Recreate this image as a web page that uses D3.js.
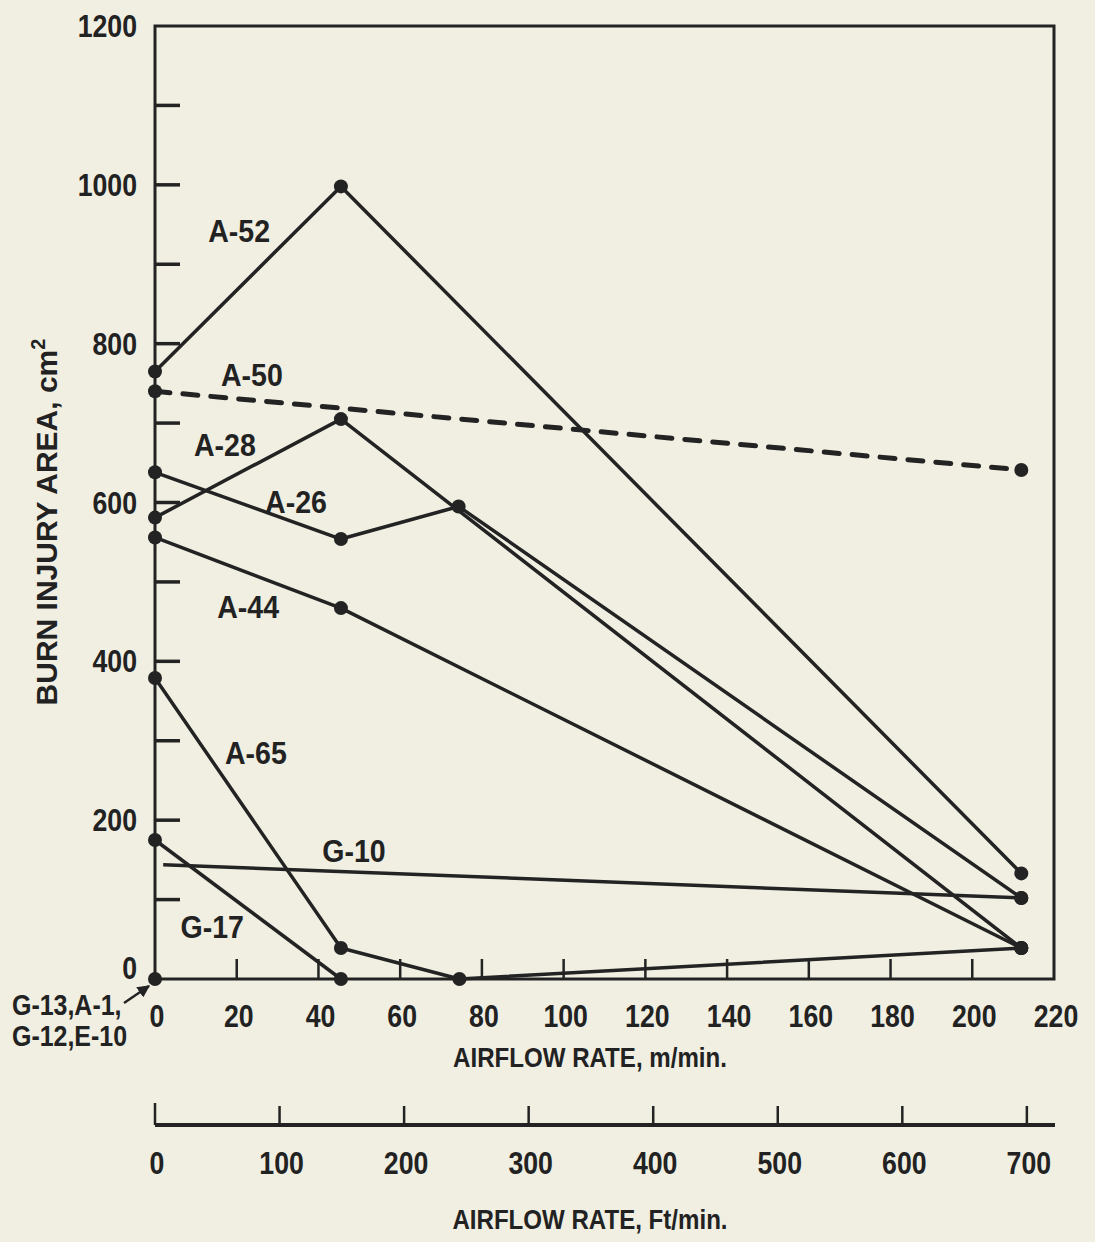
<!DOCTYPE html>
<html>
<head>
<meta charset="utf-8">
<script src="https://cdn.jsdelivr.net/npm/d3@7"></script>
<style>
  html, body { margin: 0; padding: 0; background: #f0efe2; }
  svg { display: block; }
  text { font-family: "Liberation Sans", Arial, sans-serif; font-weight: bold; fill: #222; }
</style>
</head>
<body>
<svg id="chart" width="1095" height="1242"></svg>
<script>
// ---------------- data ----------------
const seriesNames = ["A-52", "A-50", "A-28", "A-26", "A-44", "A-65", "G-10", "G-17", "G-13,A-1,G-12,E-10"];
const a52X = [0, 45.5, 212],        a52Y = [765, 998, 133];
const a50X = [0, 212],              a50Y = [740, 641];
const a28X = [0, 45.5, 212],        a28Y = [581, 705, 39];
const a26X = [0, 45.5, 74.3, 212],  a26Y = [638, 554, 595, 102];
const a44X = [0, 45.5, 212],        a44Y = [556, 467, 39];
const a65X = [0, 45.5, 74.5, 212],  a65Y = [379, 39, 0, 39];
const g10X = [2, 212],              g10Y = [144, 102];
const g17X = [0, 45.5],             g17Y = [175, 0];
const g13X = [0],                   g13Y = [0];

const xTicksM = [0, 20, 40, 60, 80, 100, 120, 140, 160, 180, 200, 220];
const xTicksFt = [0, 100, 200, 300, 400, 500, 600, 700];
const yTicks = [0, 100, 200, 300, 400, 500, 600, 700, 800, 900, 1000, 1100, 1200];
const yTickLabels = [0, 200, 400, 600, 800, 1000, 1200];

const FT_PER_M = 3.28084;

// ---------------- layout ----------------
const svg = d3.select("#chart");
const pL = 155, pR = 1054, pT = 26, pB = 979;
const ink = "#232323";
const K = 0.86; // horizontal condensing of the lettering

const x = d3.scaleLinear().domain([0, 220]).range([pL, pR]);
const y = d3.scaleLinear().domain([0, 1200]).range([pB, pT]);
const xFt = d3.scaleLinear().domain([0, 220 * FT_PER_M]).range([pL, pR]);

function condense(sel, k) {
  sel.each(function () {
    const w = this.getComputedTextLength();
    d3.select(this).attr("textLength", w * k).attr("lengthAdjust", "spacingAndGlyphs");
  });
  return sel;
}

const series = [
  { name: seriesNames[0], xs: a52X, ys: a52Y },
  { name: seriesNames[1], xs: a50X, ys: a50Y, dashed: true },
  { name: seriesNames[2], xs: a28X, ys: a28Y },
  { name: seriesNames[3], xs: a26X, ys: a26Y },
  { name: seriesNames[4], xs: a44X, ys: a44Y },
  { name: seriesNames[5], xs: a65X, ys: a65Y },
  { name: seriesNames[6], xs: g10X, ys: g10Y, noStartMarker: true },
  { name: seriesNames[7], xs: g17X, ys: g17Y },
  { name: seriesNames[8], xs: g13X, ys: g13Y }
];

// label placement (data units)
const labelPos = {
  "A-52": [20.6, 942], "A-50": [23.7, 760], "A-28": [17.1, 673], "A-26": [34.5, 601],
  "A-44": [22.8, 468], "A-65": [24.7, 284], "G-10": [48.7, 161], "G-17": [14, 66]
};

// frame
svg.append("rect")
  .attr("x", pL).attr("y", pT)
  .attr("width", pR - pL).attr("height", pB - pT)
  .attr("fill", "none").attr("stroke", ink).attr("stroke-width", 3);

// y ticks (inside)
svg.append("g").selectAll("line").data(yTicks.filter(v => v > 0 && v < 1200)).join("line")
  .attr("x1", pL).attr("x2", pL + 25)
  .attr("y1", d => y(d)).attr("y2", d => y(d))
  .attr("stroke", ink).attr("stroke-width", 3.5);

condense(svg.append("g").selectAll("text").data(yTickLabels).join("text")
  .attr("x", pL - 18).attr("y", d => y(d) + (d === 0 ? 0 : 11))
  .attr("text-anchor", "end").attr("font-size", 31)
  .text(d => d), K);

// x ticks (inside, upward)
svg.append("g").selectAll("line").data(xTicksM.filter(v => v > 0 && v < 220)).join("line")
  .attr("x1", d => x(d)).attr("x2", d => x(d))
  .attr("y1", pB).attr("y2", pB - 20)
  .attr("stroke", ink).attr("stroke-width", 2.5);

condense(svg.append("g").selectAll("text").data(xTicksM).join("text")
  .attr("x", d => x(d) + 2).attr("y", 1027)
  .attr("text-anchor", "middle").attr("font-size", 31)
  .text(d => d), K);

condense(svg.append("text").attr("x", 590).attr("y", 1067)
  .attr("text-anchor", "middle").attr("font-size", 28)
  .text("AIRFLOW RATE, m/min."), 0.86);

// ft/min axis
const ftY = 1125;
svg.append("line").attr("x1", pL).attr("x2", pR + 1)
  .attr("y1", ftY).attr("y2", ftY)
  .attr("stroke", ink).attr("stroke-width", 4);
svg.append("g").selectAll("line").data(xTicksFt).join("line")
  .attr("x1", d => xFt(d)).attr("x2", d => xFt(d))
  .attr("y1", ftY).attr("y2", d => d === 0 ? ftY - 22 : ftY - 19)
  .attr("stroke", ink).attr("stroke-width", 2.5);
condense(svg.append("g").selectAll("text").data(xTicksFt).join("text")
  .attr("x", d => xFt(d) + 2).attr("y", 1174)
  .attr("text-anchor", "middle").attr("font-size", 31)
  .text(d => d), K);
condense(svg.append("text").attr("x", 590).attr("y", 1229)
  .attr("text-anchor", "middle").attr("font-size", 28)
  .text("AIRFLOW RATE, Ft/min."), 0.86);

// y title
const yt = svg.append("text")
  .attr("transform", "translate(57,522) rotate(-90)")
  .attr("text-anchor", "middle").attr("font-size", 30);
yt.append("tspan").text("BURN INJURY AREA, cm");
yt.append("tspan").attr("font-size", 20).attr("dy", -12).text("2");

// series lines
const line = d3.line().x(d => x(d[0])).y(d => y(d[1]));
series.forEach(s => {
  const pts = s.xs.map((v, i) => [v, s.ys[i]]);
  if (pts.length > 1) {
    svg.append("path").attr("d", line(pts))
      .attr("fill", "none").attr("stroke", ink)
      .attr("stroke-width", s.dashed ? 5 : 3.5)
      .attr("stroke-dasharray", s.dashed ? "15,13" : null)
      .attr("stroke-linecap", s.dashed ? "round" : "butt")
      .attr("stroke-linejoin", "round");
  }
});
series.forEach(s => {
  const pts = s.xs.map((v, i) => [v, s.ys[i]]).filter((p, i) => !(s.noStartMarker && i === 0));
  svg.append("g").selectAll("circle").data(pts).join("circle")
    .attr("cx", d => x(d[0])).attr("cy", d => y(d[1])).attr("r", 7)
    .attr("fill", ink);
});

// series labels
Object.entries(labelPos).forEach(([name, p]) => {
  condense(svg.append("text").attr("x", x(p[0])).attr("y", y(p[1]) + 11)
    .attr("text-anchor", "middle").attr("font-size", 31)
    .text(name), 0.92);
});

// annotation for the zero point
const zeroName = seriesNames[8].split(",");
condense(svg.append("text").attr("x", 12).attr("y", 1015).attr("font-size", 29)
  .text(zeroName[0] + "," + zeroName[1] + ","), 0.86);
condense(svg.append("text").attr("x", 12).attr("y", 1046).attr("font-size", 29)
  .text(zeroName[2] + "," + zeroName[3]), 0.86);
svg.append("defs").append("marker").attr("id", "ah")
  .attr("viewBox", "0 0 10 10").attr("refX", 9).attr("refY", 5)
  .attr("markerWidth", 5).attr("markerHeight", 5).attr("orient", "auto")
  .append("path").attr("d", "M0,0 L10,5 L0,10 z").attr("fill", ink);
svg.append("line").attr("x1", 124).attr("y1", 1003).attr("x2", x(0) - 6).attr("y2", y(0) + 7)
  .attr("stroke", ink).attr("stroke-width", 2.5).attr("marker-end", "url(#ah)");
</script>
</body>
</html>
